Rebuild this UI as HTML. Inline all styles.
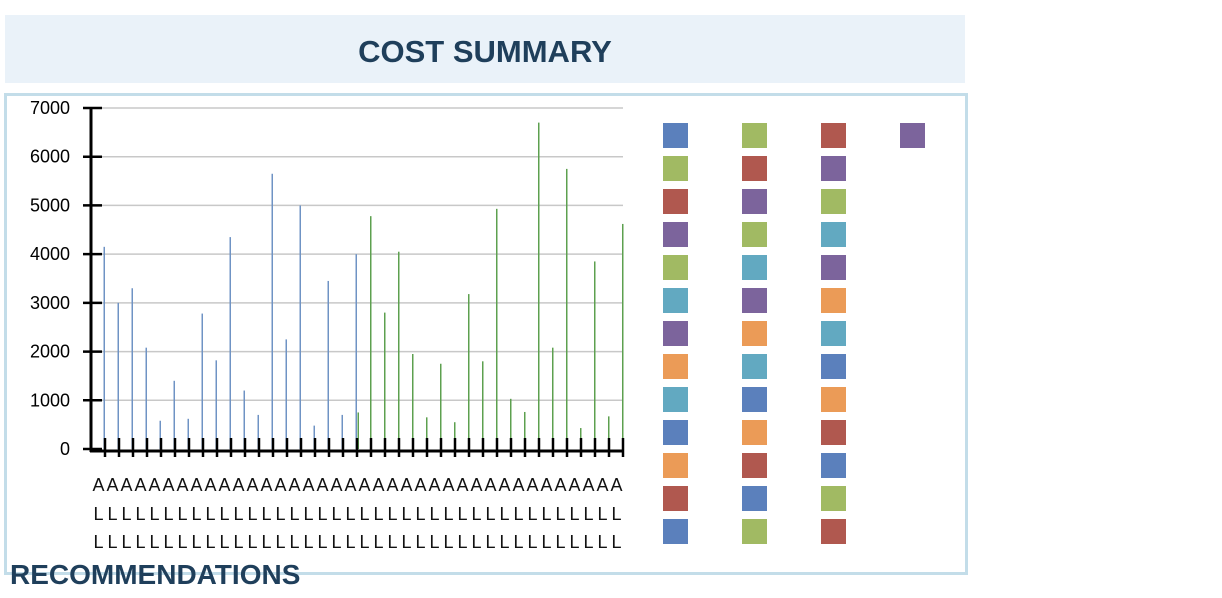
<!DOCTYPE html>
<html><head><meta charset="utf-8"><style>
body{margin:0;width:1222px;height:598px;background:#fff;font-family:"Liberation Sans",sans-serif;position:relative;overflow:hidden}
#hdr{position:absolute;left:5px;top:15px;width:960px;height:68px;background:#eaf2f9;text-align:center;line-height:74px;font-weight:bold;font-size:31px;color:#1f3f5b}
#box{position:absolute;left:4px;top:93px;width:958px;height:476px;border:3px solid #c3dde9}
#rec{position:absolute;left:10px;top:559px;font-weight:bold;font-size:28px;color:#1f3f5b}
svg{position:absolute;left:0;top:0}
</style></head><body>
<div id="hdr">COST SUMMARY</div>
<div id="box"></div>
<div id="rec">RECOMMENDATIONS</div>
<svg id="chart" width="1222" height="598"></svg>
<script>
const categoryCount = 38;
const blueValues = [4150,3000,3300,2080,580,1400,620,2780,1820,4350,1200,700,5650,2250,5000,480,3450,700,4000];
const greenValues = [750,4780,2800,4050,1950,650,1750,550,3180,1800,4930,1030,760,6700,2080,5750,430,3850,670,4620];
const greenStart = 18;
const yTicks = [0,1000,2000,3000,4000,5000,6000,7000];
const legendRows = [
 ['blue','green','red','purple'],['green','red','purple'],['red','purple','green'],
 ['purple','green','teal'],['green','teal','purple'],['teal','purple','orange'],
 ['purple','orange','teal'],['orange','teal','blue'],['teal','blue','orange'],
 ['blue','orange','red'],['orange','red','blue'],['red','blue','green'],['blue','green','red']];
const colors={blue:'#5b80bc',green:'#a1ba63',red:'#b0584f',purple:'#7c649c',teal:'#62a9c1',orange:'#eb9b57'};
const NS='http://www.w3.org/2000/svg';
const svg=document.getElementById('chart');
const x0=91,x1=623,y0=449,yTop=108;
const y=v=>y0-(v/7000)*(y0-yTop);
const cw=(x1-x0)/categoryCount;
const xEnd=i=>x0+(i+1)*cw;
function mk(t,a){const e=document.createElementNS(NS,t);for(const k in a)e.setAttribute(k,a[k]);svg.appendChild(e);return e;}
yTicks.forEach(v=>{
 if(v>0){const g=mk('line',{x1:x0,x2:x1,y1:y(v),y2:y(v),stroke:'#c8c8c8','stroke-width':1.5});
 
 }
 const t=mk('line',{x1:83,x2:102,y1:y(v),y2:y(v),stroke:'#000','stroke-width':2.5});
 
 
 const l=mk('text',{x:70,y:y(v)+6,'text-anchor':'end','font-size':18,fill:'#000','font-family':'Liberation Sans,sans-serif'});
 l.textContent=v;
 
 
});
blueValues.forEach((v,i)=>{
 const b=mk('rect',{x:xEnd(i)-1.5,y:y(v),width:1.5,height:y0-y(v),fill:'#6f93c4'});
 
 
});
greenValues.forEach((v,j)=>{
 const i=greenStart+j;
 const b=mk('rect',{x:xEnd(i)+(j==0?0.5:-1),y:y(v),width:1.5,height:y0-y(v),fill:'#5da04f'});
 
 
});
const ya=mk('line',{x1:x0,x2:x0,y1:yTop,y2:452,stroke:'#000','stroke-width':3});


const xa=mk('line',{x1:x0-1,x2:x1+1,y1:451,y2:451,stroke:'#000','stroke-width':3});


for(let i=0;i<categoryCount;i++){
 const t=mk('line',{x1:xEnd(i),x2:xEnd(i),y1:438,y2:457,stroke:'#000','stroke-width':2.5});
 
 
 const cx=x0+(i+0.5)*cw+0.5;
 [['A',491],['L',520],['L',548]].forEach(([ch,yy])=>{
  const l=mk('text',{x:cx,y:yy,'text-anchor':'middle','font-size':18,fill:'#111','font-family':'Liberation Sans,sans-serif'});
  l.textContent=ch;
  
  
 });
}
const colX=[663,742,821,900];
legendRows.forEach((row,r)=>row.forEach((c,k)=>{
 const s=mk('rect',{x:colX[k],y:123+r*33,width:25,height:25,fill:colors[c]});
 
 
}));
</script>
</body></html>
